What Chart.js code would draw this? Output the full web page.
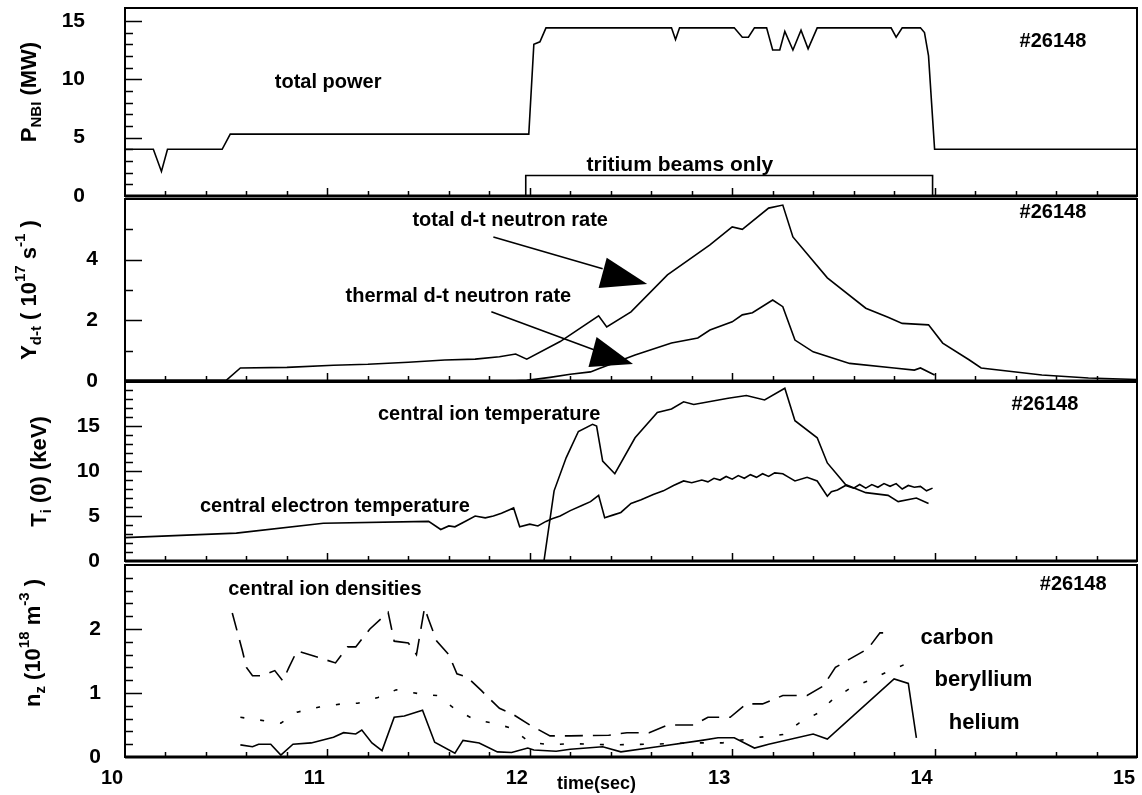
<!DOCTYPE html>
<html>
<head>
<meta charset="utf-8">
<script src="https://cdn.jsdelivr.net/npm/chart.js@4.4.1/dist/chart.umd.min.js"></script>
<style>
html, body { margin: 0; padding: 0; background: #fff; overflow: hidden; }
#wrap { position: relative; width: 1142px; height: 795px; }
#wrap canvas { position: absolute; left: 0; }
</style>
</head>
<body>
<div id="wrap">
  <canvas id="power" width="1142" height="215" style="top:0px"></canvas>
  <canvas id="neutron" width="1142" height="215" style="top:185px"></canvas>
  <canvas id="temp" width="1142" height="212" style="top:368px"></canvas>
  <canvas id="dens" width="1142" height="244" style="top:551px"></canvas>
</div>
<script>
// shared time axis (s)
const timeTicks = [10, 11, 12, 13, 14, 15];

// panel 1: NBI power (MW)
const powerT = [10.0, 10.14, 10.18, 10.21, 10.48, 10.52, 11.995, 12.02, 12.05, 12.08, 12.70, 12.72, 12.74,
  13.01, 13.05, 13.08, 13.11, 13.17, 13.2, 13.235, 13.26, 13.3, 13.34, 13.375, 13.42, 13.785, 13.81, 13.84,
  13.93, 13.95, 13.97, 13.985, 14.0, 15.0];
const powerV = [4.0, 4.0, 2.1, 4.0, 4.0, 5.3, 5.3, 13.0, 13.2, 14.4, 14.4, 13.4, 14.4,
  14.4, 13.6, 13.6, 14.4, 14.4, 12.5, 12.5, 14.1, 12.5, 14.2, 12.6, 14.4, 14.4, 13.6, 14.4,
  14.4, 14.0, 12.0, 8.0, 4.0, 4.0];
const tritiumT = [11.98, 11.98, 13.99, 13.99];
const tritiumV = [0, 1.75, 1.75, 0];
const powerTicks = [0, 5, 10, 15];

// panel 2: d-t neutron rates (1e17 /s)
const totalT = [10.0, 10.5, 10.57, 10.8, 11.03, 11.2, 11.4, 11.58, 11.73, 11.85, 11.93, 11.985, 12.15, 12.34,
  12.38, 12.5, 12.68, 12.89, 13.0, 13.05, 13.18, 13.25, 13.3, 13.47, 13.66, 13.77, 13.84, 13.97, 14.04,
  14.17, 14.23, 14.53, 14.76, 15.0];
const totalV = [0.02, 0.02, 0.43, 0.45, 0.52, 0.55, 0.62, 0.69, 0.72, 0.8, 0.89, 0.72, 1.3, 2.15,
  1.78, 2.28, 3.5, 4.49, 5.08, 5.0, 5.7, 5.8, 4.75, 3.4, 2.4, 2.1, 1.9, 1.85, 1.25,
  0.7, 0.43, 0.2, 0.1, 0.05];
const thermalT = [11.9, 11.985, 12.1, 12.2, 12.3, 12.34, 12.52, 12.7, 12.83, 12.89, 13.0, 13.05, 13.1, 13.2,
  13.25, 13.31, 13.4, 13.58, 13.8, 13.9, 13.93, 14.0];
const thermalV = [0.0, 0.02, 0.12, 0.22, 0.3, 0.4, 0.86, 1.25, 1.42, 1.68, 1.95, 2.18, 2.25, 2.67,
  2.45, 1.35, 0.96, 0.58, 0.43, 0.36, 0.43, 0.2];
const neutronTicks = [0, 2, 4];

// panel 3: central temperatures (keV)
const ionT = [12.07, 12.12, 12.18, 12.24, 12.31, 12.33, 12.36, 12.42, 12.52, 12.63, 12.7, 12.76, 12.81,
  12.98, 13.07, 13.16, 13.26, 13.31, 13.42, 13.47, 13.56, 13.66, 13.77, 13.82, 13.91, 13.97];
const ionV = [0, 7.8, 11.5, 14.4, 15.2, 15.0, 11.1, 9.7, 13.7, 16.5, 16.9, 17.7, 17.4,
  18.1, 18.4, 17.9, 19.2, 15.6, 13.7, 10.9, 8.5, 7.6, 7.3, 6.6, 7.0, 6.4];
const elecT = [10.0, 10.55, 10.98, 11.5, 11.56, 11.6, 11.63, 11.68, 11.73, 11.78, 11.82, 11.86, 11.9, 11.92,
  11.95, 12.0, 12.04, 12.08, 12.11, 12.15, 12.2, 12.26, 12.3, 12.34, 12.37, 12.41, 12.45, 12.5, 12.55,
  12.61, 12.66, 12.71, 12.76, 12.8, 12.85, 12.88, 12.91, 12.94, 12.97, 13.0, 13.03, 13.06, 13.09, 13.12,
  13.15, 13.18, 13.21, 13.25, 13.28, 13.31, 13.37, 13.42, 13.47, 13.49, 13.52, 13.56, 13.6, 13.63, 13.66,
  13.69, 13.72, 13.75, 13.78, 13.81, 13.84, 13.87, 13.9, 13.93, 13.96, 13.99];
const elecV = [2.6, 3.1, 4.2, 4.4, 3.5, 3.9, 3.8, 4.4, 5.0, 4.8, 5.0, 5.3, 5.7, 5.9,
  3.8, 4.1, 3.9, 4.4, 4.7, 5.0, 5.6, 6.2, 6.6, 7.3, 4.8, 5.1, 5.4, 6.4, 6.8,
  7.4, 7.8, 8.4, 8.9, 8.7, 9.0, 8.8, 9.2, 9.0, 9.4, 9.1, 9.5, 9.2, 9.6, 9.3,
  9.7, 9.4, 9.8, 9.7, 9.3, 8.9, 9.3, 8.9, 7.2, 7.7, 7.9, 8.4, 8.1, 8.5, 8.1,
  8.5, 8.2, 8.6, 8.3, 8.6, 8.0, 8.4, 8.2, 8.3, 7.8, 8.1];
const tempTicks = [0, 5, 10, 15];

// panel 4: central impurity densities (1e18 m^-3)
const carbonT = [10.53, 10.58, 10.6, 10.63, 10.68, 10.74, 10.78, 10.81, 10.85, 10.96, 11.04, 11.1, 11.14,
  11.21, 11.3, 11.33, 11.4, 11.44, 11.48, 11.5, 11.54, 11.6, 11.64, 11.69, 11.76, 11.85, 11.91, 12.0,
  12.1, 12.2, 12.39, 12.48, 12.59, 12.68, 12.81, 12.88, 12.99, 13.07, 13.15, 13.25, 13.37, 13.45,
  13.51, 13.58, 13.67, 13.73, 13.77];
const carbonV = [2.25, 1.66, 1.4, 1.27, 1.27, 1.35, 1.19, 1.4, 1.66, 1.55, 1.47, 1.72, 1.72,
  2.0, 2.26, 1.81, 1.78, 1.6, 2.33, 2.15, 1.81, 1.6, 1.3, 1.25, 1.04, 0.76, 0.68, 0.5,
  0.33, 0.33, 0.34, 0.38, 0.38, 0.5, 0.5, 0.62, 0.62, 0.83, 0.83, 0.96, 0.96, 1.11,
  1.4, 1.53, 1.69, 1.94, 1.94];
const berylT = [10.57, 10.66, 10.77, 10.85, 10.96, 11.07, 11.15, 11.25, 11.34, 11.45, 11.54, 11.64, 11.73,
  11.82, 11.91, 12.0, 12.1, 12.2, 12.4, 12.6, 12.8, 12.95, 13.14, 13.25, 13.33, 13.42, 13.49, 13.58,
  13.67, 13.78, 13.87];
const berylV = [0.62, 0.58, 0.53, 0.7, 0.78, 0.83, 0.84, 0.93, 1.05, 0.99, 0.96, 0.73, 0.58,
  0.53, 0.45, 0.23, 0.19, 0.21, 0.19, 0.2, 0.22, 0.22, 0.31, 0.35, 0.53, 0.68, 0.88, 1.07,
  1.19, 1.35, 1.47];
const heliumT = [10.57, 10.63, 10.66, 10.72, 10.77, 10.83, 10.92, 11.03, 11.08, 11.14, 11.17, 11.22, 11.27,
  11.33, 11.38, 11.47, 11.53, 11.63, 11.67, 11.75, 11.84, 11.91, 11.99, 12.02, 12.13, 12.2, 12.36,
  12.45, 12.63, 12.85, 12.93, 13.01, 13.11, 13.18, 13.4, 13.47, 13.8, 13.87, 13.91];
const heliumV = [0.19, 0.16, 0.2, 0.2, 0.03, 0.2, 0.22, 0.31, 0.38, 0.36, 0.42, 0.22, 0.1,
  0.62, 0.64, 0.73, 0.23, 0.06, 0.26, 0.22, 0.08, 0.07, 0.14, 0.11, 0.09, 0.12, 0.16,
  0.08, 0.16, 0.26, 0.3, 0.3, 0.14, 0.2, 0.36, 0.28, 1.22, 1.15, 0.3];
const densTicks = [0, 1, 2];

const FONT = '"Liberation Sans", Arial, Helvetica, sans-serif';

function pts(ts, vs) {
  return vs.map((v, i) => ({ x: ts[i], y: v }));
}

function line(ts, vs, extra) {
  return Object.assign({
    data: pts(ts, vs),
    borderColor: '#000',
    borderWidth: 1.6,
    pointRadius: 0,
    fill: false,
    tension: 0
  }, extra || {});
}

// frame + inward tick marks, like the original plot
const framePlugin = {
  id: 'frame',
  afterDatasetsDraw(chart, args, opts) {
    const { ctx, chartArea: a, scales } = chart;
    const xs = scales.x, ys = scales.y;
    ctx.save();
    ctx.strokeStyle = '#000';
    ctx.lineWidth = 1.5;
    ctx.beginPath();
    const n = Math.round((ys.max - ys.min) / opts.yMinor);
    for (let i = 1; i < n; i++) {
      const v = ys.min + i * opts.yMinor;
      const r = v / opts.yMajor;
      const len = Math.abs(r - Math.round(r)) < 1e-6 ? 17 : 8;
      const py = Math.round(ys.getPixelForValue(v)) + 0.5;
      ctx.moveTo(a.left, py);
      ctx.lineTo(a.left + len, py);
    }
    for (let i = 1; i < 25; i++) {
      const v = 10 + i * 0.2;
      const len = i % 5 === 0 ? 8 : 5;
      const px = Math.round(xs.getPixelForValue(v)) + 0.5;
      ctx.moveTo(px, a.bottom);
      ctx.lineTo(px, a.bottom - len);
    }
    ctx.stroke();
    ctx.lineWidth = 2;
    ctx.strokeRect(a.left, a.top, a.right - a.left, a.bottom - a.top);
    ctx.lineWidth = 3;
    ctx.beginPath();
    ctx.moveTo(a.left, a.bottom);
    ctx.lineTo(a.right, a.bottom);
    ctx.stroke();
    ctx.restore();
  }
};

// text notes, arrows and rotated axis title
const notesPlugin = {
  id: 'notes',
  afterDraw(chart, args, opts) {
    const { ctx, chartArea: a, scales } = chart;
    const xs = scales.x, ys = scales.y;
    ctx.save();
    ctx.fillStyle = '#000';
    ctx.strokeStyle = '#000';
    ctx.textBaseline = 'middle';
    (opts.texts || []).forEach(n => {
      ctx.font = 'bold ' + (n.size || 20) + 'px ' + FONT;
      ctx.textAlign = n.align || 'left';
      ctx.fillText(n.text, xs.getPixelForValue(n.t), ys.getPixelForValue(n.v));
    });
    (opts.arrows || []).forEach(ar => {
      ctx.lineWidth = 1.6;
      ctx.beginPath();
      ctx.moveTo(xs.getPixelForValue(ar.from[0]), ys.getPixelForValue(ar.from[1]));
      ctx.lineTo(xs.getPixelForValue(ar.to[0]), ys.getPixelForValue(ar.to[1]));
      ctx.stroke();
      ctx.beginPath();
      ar.head.forEach((p, i) => {
        const px = xs.getPixelForValue(p[0]), py = ys.getPixelForValue(p[1]);
        if (i === 0) ctx.moveTo(px, py); else ctx.lineTo(px, py);
      });
      ctx.closePath();
      ctx.fill();
    });
    if (opts.title) {
      const segs = opts.title.map(s => {
        const small = s[1] !== 0;
        const font = 'bold ' + (small ? 15 : 22) + 'px ' + FONT;
        ctx.font = font;
        return { text: s[0], font: font, shift: s[1] === 'sub' ? 7 : (s[1] === 'sup' ? -9 : 0), w: ctx.measureText(s[0]).width };
      });
      const total = segs.reduce((sum, s) => sum + s.w, 0);
      ctx.translate(opts.titleX, (a.top + a.bottom) / 2 + (opts.titleDy || 0));
      ctx.rotate(-Math.PI / 2);
      ctx.textAlign = 'left';
      let x = -total / 2;
      segs.forEach(s => {
        ctx.font = s.font;
        ctx.fillText(s.text, x, s.shift);
        x += s.w;
      });
    }
    ctx.restore();
  }
};

function panel(id, p) {
  const tickFont = { family: FONT, size: 21, weight: 'bold' };
  return new Chart(document.getElementById(id), {
    type: 'line',
    data: { datasets: p.datasets },
    options: {
      responsive: false,
      animation: false,
      devicePixelRatio: 1,
      layout: { padding: { left: 0, right: 5, top: p.top, bottom: p.bottom } },
      plugins: {
        legend: { display: false },
        tooltip: { enabled: false },
        frame: { yMinor: p.yMinor, yMajor: p.yMajor },
        notes: { texts: p.texts, arrows: p.arrows, title: p.title, titleX: p.titleX, titleDy: p.titleDy }
      },
      scales: {
        x: {
          type: 'linear',
          min: 10,
          max: 15,
          display: !!p.showX,
          afterBuildTicks: s => { s.ticks = timeTicks.map(v => ({ value: v })); },
          afterFit: s => {
            s.height = p.showX ? 30 : 0;
            s.paddingLeft = 0;
            s.paddingRight = 0;
          },
          grid: { display: false, drawTicks: false },
          border: { display: false },
          ticks: { font: { family: FONT, size: 20, weight: 'bold' }, color: '#000', padding: 9, labelOffset: -13, maxRotation: 0 }
        },
        y: {
          type: 'linear',
          min: 0,
          max: p.ymax,
          afterBuildTicks: s => { s.ticks = p.ticks.map(v => ({ value: v })); },
          afterFit: s => {
            s.width = 125;
            s.paddingTop = 0;
            s.paddingBottom = 0;
          },
          grid: { display: false, drawTicks: false },
          border: { display: false },
          ticks: { font: tickFont, color: '#000', padding: p.labelPad }
        }
      }
    },
    plugins: [framePlugin, notesPlugin]
  });
}

// panel paddings are set so the plot frames land where the original has them
panel('power', {
  top: 8, bottom: 215 - 196, ymax: 16.1, ticks: powerTicks, yMinor: 1, yMajor: 5, labelPad: 40,
  datasets: [line(powerT, powerV), line(tritiumT, tritiumV)],
  texts: [
    { text: 'total power', t: 10.74, v: 9.7 },
    { text: 'tritium beams only', t: 12.28, v: 2.65, size: 21 },
    { text: '#26148', t: 14.42, v: 13.2 }
  ],
  title: [['P', 0], ['NBI', 'sub'], [' (MW)', 0]], titleX: 30, titleDy: -10
});

panel('neutron', {
  top: 199 - 185, bottom: 400 - 381, ymax: 6, ticks: neutronTicks, yMinor: 1, yMajor: 2, labelPad: 27,
  datasets: [line(totalT, totalV), line(thermalT, thermalV)],
  texts: [
    { text: 'total d-t neutron rate', t: 11.42, v: 5.28 },
    { text: 'thermal d-t neutron rate', t: 11.09, v: 2.77 },
    { text: '#26148', t: 14.42, v: 5.54 }
  ],
  arrows: [
    { from: [11.82, 4.75], to: [12.36, 3.7], head: [[12.38, 4.06], [12.34, 3.07], [12.58, 3.2]] },
    { from: [11.81, 2.28], to: [12.33, 1.0], head: [[12.33, 1.45], [12.29, 0.46], [12.51, 0.56]] }
  ],
  title: [['Y', 0], ['d-t', 'sub'], [' ( 10', 0], ['17', 'sup'], [' s', 0], ['-1', 'sup'], [' )', 0]],
  titleX: 30, titleDy: 0
});

panel('temp', {
  top: 382 - 368, bottom: 580 - 561, ymax: 19.9, ticks: tempTicks, yMinor: 1, yMajor: 5, labelPad: 25,
  datasets: [line(ionT, ionV), line(elecT, elecV)],
  texts: [
    { text: 'central ion temperature', t: 11.25, v: 16.3 },
    { text: 'central electron temperature', t: 10.37, v: 6.1 },
    { text: '#26148', t: 14.38, v: 17.4 }
  ],
  title: [['T', 0], ['i', 'sub'], [' (0) (keV)', 0]], titleX: 40, titleDy: 0
});

panel('dens', {
  top: 565 - 551, bottom: 795 - 757 - 30, ymax: 3, ticks: densTicks, yMinor: 0.2, yMajor: 1, labelPad: 24,
  showX: true,
  datasets: [
    line(carbonT, carbonV, { borderDash: [18, 10] }),
    line(berylT, berylV, { borderDash: [4, 16] }),
    line(heliumT, heliumV)
  ],
  texts: [
    { text: 'central ion densities', t: 10.51, v: 2.62 },
    { text: 'carbon', t: 13.93, v: 1.86, size: 22 },
    { text: 'beryllium', t: 14.0, v: 1.21, size: 22 },
    { text: 'helium', t: 14.07, v: 0.54, size: 22 },
    { text: '#26148', t: 14.52, v: 2.7 },
    { text: 'time(sec)', t: 12.33, v: -0.43, align: 'center', size: 18 }
  ],
  title: [['n', 0], ['z', 'sub'], [' (10', 0], ['18', 'sup'], [' m', 0], ['-3', 'sup'], [' )', 0]],
  titleX: 34, titleDy: -18
});
</script>
</body>
</html>
